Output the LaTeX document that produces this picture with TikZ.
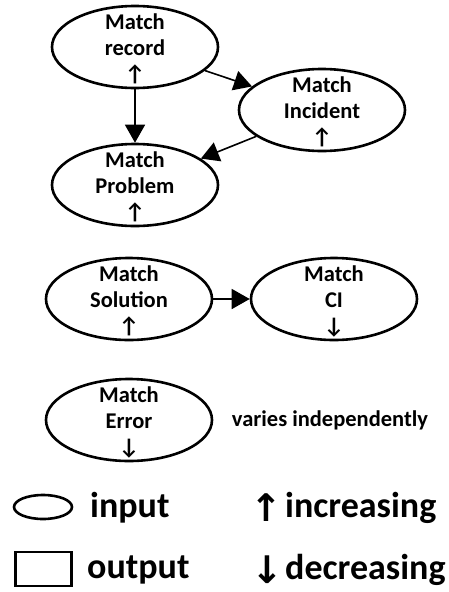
\documentclass[tikz,border=0pt]{standalone}
\usepackage{fontspec}
\setmainfont{Carlito}
\newfontfamily\arrowfont{DejaVu Sans}
\usetikzlibrary{shapes.geometric,arrows.meta}
\tikzset{
  oval/.style={ellipse, draw, line width=2.6pt, minimum width=166pt, minimum height=82pt, inner sep=0pt},
  inlabel/.style={align=center, inner sep=0pt, font=\fontsize{22.5}{26}\selectfont\bfseries},
  link/.style={line width=1.6pt, -{Triangle[length=18pt,width=20pt]}},
  legtext/.style={anchor=west, inner sep=0pt, font=\fontsize{36}{40}\selectfont\bfseries},
  legarrow/.style={font=\arrowfont\fontsize{38}{40}\selectfont\bfseries},
}
\begin{document}
\begin{tikzpicture}[x=1pt,y=-1pt]
\useasboundingbox (0,0) rectangle (448,592);

% variable ovals
\node[oval] (rec) at (135,47) {};
\node[oval] (inc) at (322,110) {};
\node[oval] (prob) at (135,185) {};
\node[oval] (sol) at (129,299) {};
\node[oval] (ci) at (334,299) {};
\node[oval] (err) at (129,420) {};

% their labels
\node[inlabel] (recT) at ([yshift=-2pt]rec.center) {Match\\record\\↑};
\node[inlabel] (incT) at ([yshift=-2pt]inc.center) {Match\\Incident\\↑};
\node[inlabel] (probT) at ([yshift=-2pt]prob.center) {Match\\Problem\\↑};
\node[inlabel] (solT) at ([yshift=-2pt]sol.center) {Match\\Solution\\↑};
\node[inlabel] (ciT) at ([yshift=-2pt]ci.center) {Match\\CI\\↓};
\node[inlabel] (errT) at ([yshift=-2pt]err.center) {Match\\Error\\↓};

\node[inlabel] (indep) at (330,420) {varies independently};

% dependencies
\draw[link] (rec) -- (inc);
\draw[link] (rec) -- (prob);
\draw[link] (inc) -- (prob);
\draw[link] (sol) -- (ci);

% legend
\node[ellipse, draw, line width=2.6pt, minimum width=58pt, minimum height=24pt, inner sep=0pt] (legIn) at (43,507) {};
\node[legtext] (legInT) at (90,508) {input};
\node[rectangle, draw, line width=2.6pt, minimum width=56pt, minimum height=34pt, inner sep=0pt] (legOut) at (43.5,569) {};
\node[legtext] (legOutT) at (87,570) {output};
\node[legarrow] (upA) at (266,508) {↑};
\node[legtext] (legUp) at (285,508) {increasing};
\node[legarrow] (downA) at (267,570) {↓};
\node[legtext] (legDown) at (285,570) {decreasing};
\end{tikzpicture}
\end{document}
